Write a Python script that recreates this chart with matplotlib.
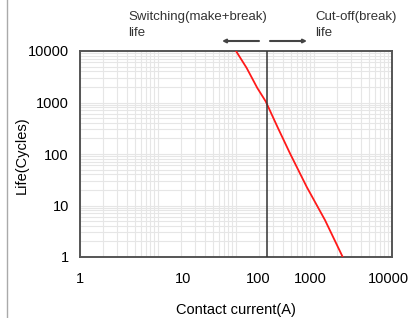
import matplotlib.pyplot as plt
import matplotlib.ticker as mticker
from matplotlib.lines import Line2D

plt.rcParams['font.family'] = ['Liberation Sans', 'DejaVu Sans']

# curva de vida (corrente x ciclos)
corrente = [100, 137, 187.5, 240, 345, 492, 806, 1384, 2334]
vida = [10000, 4677, 1914, 1055, 320, 103, 23, 5.2, 1]

corrente_limite = 248

xtick_pos = [1, 21, 192, 885, 8900]
xtick_txt = ["1", "10", "100", "1000", "10000"]
ytick_pos = [1, 10, 100, 1000, 10000]
ytick_txt = ["1", "10", "100", "1000", "10000"]

fig = plt.figure(figsize=(4.17, 3.18), dpi=100)
ax = fig.add_axes([80/417, 1 - 257/318, 312/417, 206/318])

ax.set_xscale('log')
ax.set_yscale('log')
ax.set_xlim(1, 10000)
ax.set_ylim(1, 10000)

# grade log (linhas 1..9 de cada década) como minor ticks
ax.xaxis.set_minor_locator(mticker.LogLocator(base=10, subs=range(1, 10), numticks=50))
ax.yaxis.set_minor_locator(mticker.LogLocator(base=10, subs=range(1, 10), numticks=50))
ax.xaxis.remove_overlapping_locs = False
ax.yaxis.remove_overlapping_locs = False
ax.xaxis.set_minor_formatter(mticker.NullFormatter())
ax.yaxis.set_minor_formatter(mticker.NullFormatter())
ax.grid(True, which='minor', color='#e6e6e6', linewidth=0.8)
ax.grid(False, which='major')
ax.set_axisbelow(True)

# rótulos nas posições da figura original (sem marcas)
ax.set_xticks(xtick_pos)
ax.set_xticklabels(xtick_txt)
ax.set_yticks(ytick_pos)
ax.set_yticklabels(ytick_txt)
ax.tick_params(axis='both', which='both', length=0, labelsize=10.5)
ax.tick_params(axis='x', which='major', pad=11)
ax.tick_params(axis='y', which='major', pad=8)

ax.plot(corrente, vida, color='#ff1a1a', linewidth=1.3, zorder=3)
ax.axvline(corrente_limite, color='#333333', linewidth=1.1, zorder=3)

for s in ax.spines.values():
    s.set_color('#555555')
    s.set_linewidth(1.4)

ax.set_xlabel("Contact current(A)", fontsize=10.5, labelpad=12)
ax.set_ylabel("Life(Cycles)", fontsize=10.5)
ax.yaxis.set_label_coords(-0.165, 0.495)

fig.text(128/417, 1 - 17/318, "Switching(make+break)", fontsize=9.5, color='#333333', va='center')
fig.text(128/417, 1 - 33/318, "life", fontsize=9.5, color='#333333', va='center')
fig.text(315/417, 1 - 17/318, "Cut-off(break)", fontsize=9.5, color='#333333', va='center')
fig.text(315/417, 1 - 33/318, "life", fontsize=9.5, color='#333333', va='center')

ax.annotate("", xy=(222/417, 1 - 41/318), xytext=(259/417, 1 - 41/318),
            xycoords='figure fraction', textcoords='figure fraction',
            arrowprops=dict(arrowstyle='-|>', color='#444444', lw=1.5,
                            mutation_scale=5, shrinkA=0, shrinkB=0))
ax.annotate("", xy=(307/417, 1 - 41/318), xytext=(270/417, 1 - 41/318),
            xycoords='figure fraction', textcoords='figure fraction',
            arrowprops=dict(arrowstyle='-|>', color='#444444', lw=1.5,
                            mutation_scale=5, shrinkA=0, shrinkB=0))

fig.add_artist(Line2D([7/417, 7/417], [0, 1], color='#aaaaaa', linewidth=1))

fig.savefig("out.png", dpi=100)
